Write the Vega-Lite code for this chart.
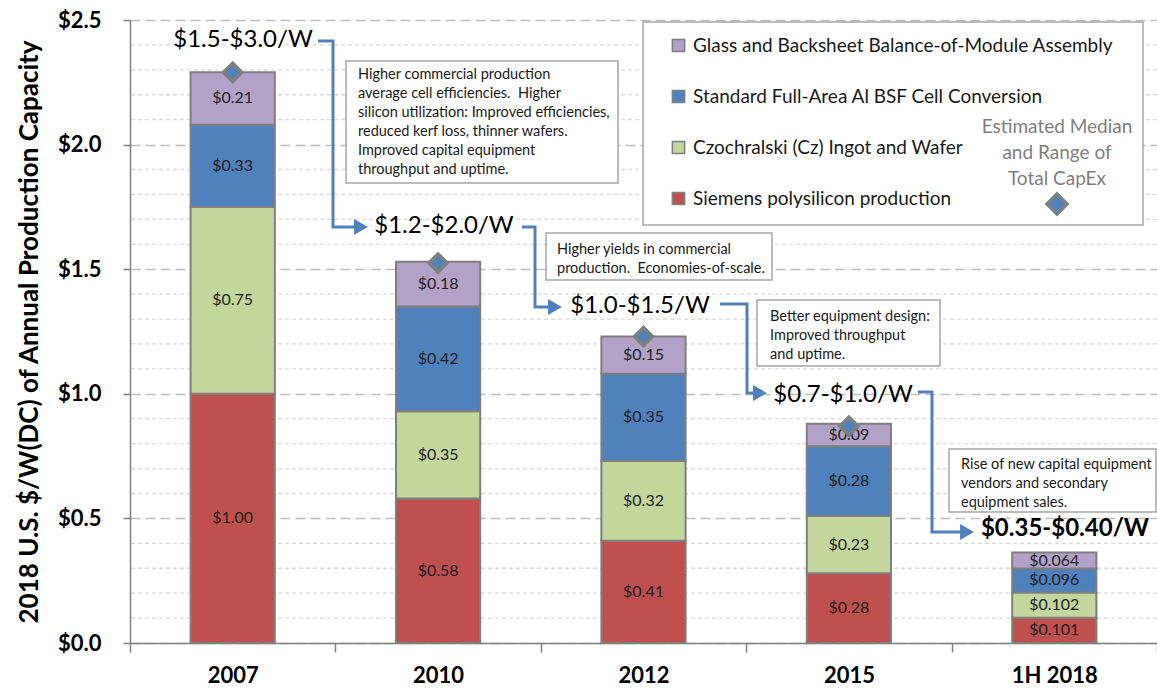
{
  "$schema": "https://vega.github.io/schema/vega-lite/v6.json",
  "width": 1027,
  "height": 623,
  "autosize": {"type": "none"},
  "padding": {"left": 130, "top": 20, "right": 0, "bottom": 46},
  "background": "white",
  "config": {"font": "Lato", "view": {"stroke": null}},
  "datasets": {
    "costs": [
      {"year": "2007", "component": "Siemens polysilicon production", "rank": 1, "value": 1.00},
      {"year": "2007", "component": "Czochralski (Cz) Ingot and Wafer", "rank": 2, "value": 0.75},
      {"year": "2007", "component": "Standard Full-Area Al BSF Cell Conversion", "rank": 3, "value": 0.33},
      {"year": "2007", "component": "Glass and Backsheet Balance-of-Module Assembly", "rank": 4, "value": 0.21},
      {"year": "2010", "component": "Siemens polysilicon production", "rank": 1, "value": 0.58},
      {"year": "2010", "component": "Czochralski (Cz) Ingot and Wafer", "rank": 2, "value": 0.35},
      {"year": "2010", "component": "Standard Full-Area Al BSF Cell Conversion", "rank": 3, "value": 0.42},
      {"year": "2010", "component": "Glass and Backsheet Balance-of-Module Assembly", "rank": 4, "value": 0.18},
      {"year": "2012", "component": "Siemens polysilicon production", "rank": 1, "value": 0.41},
      {"year": "2012", "component": "Czochralski (Cz) Ingot and Wafer", "rank": 2, "value": 0.32},
      {"year": "2012", "component": "Standard Full-Area Al BSF Cell Conversion", "rank": 3, "value": 0.35},
      {"year": "2012", "component": "Glass and Backsheet Balance-of-Module Assembly", "rank": 4, "value": 0.15},
      {"year": "2015", "component": "Siemens polysilicon production", "rank": 1, "value": 0.28},
      {"year": "2015", "component": "Czochralski (Cz) Ingot and Wafer", "rank": 2, "value": 0.23},
      {"year": "2015", "component": "Standard Full-Area Al BSF Cell Conversion", "rank": 3, "value": 0.28},
      {"year": "2015", "component": "Glass and Backsheet Balance-of-Module Assembly", "rank": 4, "value": 0.09},
      {"year": "1H 2018", "component": "Siemens polysilicon production", "rank": 1, "value": 0.101},
      {"year": "1H 2018", "component": "Czochralski (Cz) Ingot and Wafer", "rank": 2, "value": 0.102},
      {"year": "1H 2018", "component": "Standard Full-Area Al BSF Cell Conversion", "rank": 3, "value": 0.096},
      {"year": "1H 2018", "component": "Glass and Backsheet Balance-of-Module Assembly", "rank": 4, "value": 0.064}
    ],
    "medians": [
      {"year": "2007", "median": 2.29},
      {"year": "2010", "median": 1.525},
      {"year": "2012", "median": 1.23},
      {"year": "2015", "median": 0.87}
    ],
    "minorgrid": [
      {"g": 0.1}, {"g": 0.2}, {"g": 0.3}, {"g": 0.4},
      {"g": 0.6}, {"g": 0.7}, {"g": 0.8}, {"g": 0.9},
      {"g": 1.1}, {"g": 1.2}, {"g": 1.3}, {"g": 1.4},
      {"g": 1.6}, {"g": 1.7}, {"g": 1.8}, {"g": 1.9},
      {"g": 2.1}, {"g": 2.2}, {"g": 2.3}, {"g": 2.4}
    ],
    "ranges": [
      {"x": 0.0502, "y": 2.4198, "label": "$1.5-$3.0/W", "bold": 0},
      {"x": 1.0287, "y": 1.6734, "label": "$1.2-$2.0/W", "bold": 0},
      {"x": 1.983, "y": 1.3523, "label": "$1.0-$1.5/W", "bold": 0},
      {"x": 2.9713, "y": 0.9952, "label": "$0.7-$1.0/W", "bold": 0},
      {"x": 4.0521, "y": 0.4575, "label": "$0.35-$0.40/W", "bold": 1}
    ],
    "connectors": [
      {"seg": 1, "i": 1, "x": 0.4153, "y": 2.416},
      {"seg": 1, "i": 2, "x": 0.4883, "y": 2.416},
      {"seg": 1, "i": 3, "x": 0.4883, "y": 1.6693},
      {"seg": 1, "i": 4, "x": 0.6246, "y": 1.6693},
      {"seg": 2, "i": 1, "x": 1.4085, "y": 1.6693},
      {"seg": 2, "i": 2, "x": 1.4718, "y": 1.6693},
      {"seg": 2, "i": 3, "x": 1.4718, "y": 1.3483},
      {"seg": 2, "i": 4, "x": 1.5691, "y": 1.3483},
      {"seg": 3, "i": 1, "x": 2.3724, "y": 1.3604},
      {"seg": 3, "i": 2, "x": 2.5039, "y": 1.3604},
      {"seg": 3, "i": 3, "x": 2.5039, "y": 1.0032},
      {"seg": 3, "i": 4, "x": 2.5672, "y": 1.0032},
      {"seg": 4, "i": 1, "x": 3.3364, "y": 1.0072},
      {"seg": 4, "i": 2, "x": 3.4046, "y": 1.0072},
      {"seg": 4, "i": 3, "x": 3.4046, "y": 0.4454},
      {"seg": 4, "i": 4, "x": 3.575, "y": 0.4454}
    ],
    "boxes": [
      {"x1": 0.5516, "x2": 1.8759, "y1": 2.3355, "y2": 1.8459},
      {"x1": 1.5253, "x2": 2.6256, "y1": 1.6453, "y2": 1.4567},
      {"x1": 2.5526, "x2": 3.4436, "y1": 1.3764, "y2": 1.1116},
      {"x1": 3.4874, "x2": 4.4951, "y1": 0.7785, "y2": 0.5257},
      {"x1": 1.9976, "x2": 4.4318, "y1": 2.492, "y2": 1.6774}
    ],
    "notes": [
      {"x": 0.61, "y": 2.3074, "note": "Higher commercial production\naverage cell efficiencies.\u00a0 Higher\nsilicon utilization: Improved efficiencies,\nreduced kerf loss, thinner wafers.\nImproved capital equipment\nthroughput and uptime."},
      {"x": 1.5789, "y": 1.6051, "note": "Higher yields in commercial\nproduction.\u00a0 Economies-of-scale."},
      {"x": 2.6159, "y": 1.3363, "note": "Better equipment design:\nImproved throughput\nand uptime."},
      {"x": 3.5458, "y": 0.7424, "note": "Rise of new capital equipment\nvendors and secondary\nequipment sales."}
    ],
    "legendnote": [
      {"x": 4.0131, "y": 2.1068, "ty": 1.7616, "note": "Estimated Median\nand Range of\nTotal CapEx"}
    ]
  },
  "resolve": {"scale": {"x": "independent"}},
  "layer": [
    {
      "data": {"name": "minorgrid"},
      "mark": {"type": "rule", "color": "#D9D9D9", "strokeWidth": 1.3, "strokeDash": [4, 3]},
      "encoding": {
        "y": {"field": "g", "type": "quantitative"}
      }
    },
    {
      "data": {"name": "costs"},
      "transform": [
        {"stack": "value", "groupby": ["year"], "sort": [{"field": "rank", "order": "ascending"}], "as": ["y0", "y1"]}
      ],
      "mark": {"type": "bar", "width": {"band": 0.41}, "stroke": "#7F7F7F", "strokeWidth": 2},
      "encoding": {
        "x": {
          "field": "year",
          "type": "nominal",
          "sort": ["2007", "2010", "2012", "2015", "1H 2018"],
          "scale": {"domain": ["2007", "2010", "2012", "2015", "1H 2018"], "paddingInner": 0, "paddingOuter": 0},
          "axis": {
            "title": null,
            "labelFontSize": 22,
            "labelFontWeight": "bold",
            "labelColor": "#000000",
            "labelAngle": 0,
            "tickBand": "extent",
            "tickSize": 9,
            "tickColor": "#808080",
            "tickWidth": 1.5,
            "domainColor": "#808080",
            "domainWidth": 1.5,
            "labelPadding": 13,
            "grid": false
          }
        },
        "y": {
          "field": "y0",
          "type": "quantitative",
          "scale": {"domain": [0, 2.5], "nice": false},
          "axis": {
            "values": [0, 0.5, 1, 1.5, 2, 2.5],
            "labelExpr": "'$' + format(datum.value, '.1f')",
            "labelFontSize": 22,
            "labelFontWeight": "bold",
            "labelColor": "#000000",
            "labelPadding": 22,
            "tickSize": 7,
            "tickColor": "#808080",
            "tickWidth": 1.5,
            "domainColor": "#808080",
            "domainWidth": 1.5,
            "grid": true,
            "gridColor": "#BFBFBF",
            "gridDash": [10, 5],
            "gridWidth": 1.3,
            "title": "2018 U.S. $/W(DC) of Annual Production Capacity",
            "titleFontSize": 26,
            "titleFontWeight": "bold",
            "titleColor": "#000000",
            "titlePadding": 15
          }
        },
        "y2": {"field": "y1"},
        "color": {
          "field": "component",
          "type": "nominal",
          "scale": {
            "domain": ["Glass and Backsheet Balance-of-Module Assembly", "Standard Full-Area Al BSF Cell Conversion", "Czochralski (Cz) Ingot and Wafer", "Siemens polysilicon production"],
            "range": ["#B3A2C7", "#4F81BD", "#C3D69B", "#C0504D"]
          },
          "legend": {
            "title": null,
            "orient": "none",
            "legendX": 539,
            "legendY": 16,
            "symbolType": "square",
            "symbolSize": 150,
            "symbolStrokeColor": "#7F7F7F",
            "symbolStrokeWidth": 1.5,
            "symbolOpacity": 1,
            "labelFontSize": 19,
            "labelColor": "#1A1A1A",
            "labelLimit": 500,
            "labelOffset": 5,
            "rowPadding": 31
          }
        }
      }
    },
    {
      "data": {"name": "costs"},
      "transform": [
        {"stack": "value", "groupby": ["year"], "sort": [{"field": "rank", "order": "ascending"}], "as": ["y0", "y1"]},
        {"calculate": "(datum.y0 + datum.y1) / 2", "as": "mid"},
        {"calculate": "'$' + format(datum.value, datum.year === '1H 2018' ? '.3f' : '.2f')", "as": "label"}
      ],
      "mark": {"type": "text", "fontSize": 16, "color": "#222222", "baseline": "middle", "align": "center"},
      "encoding": {
        "x": {"field": "year", "type": "nominal", "sort": ["2007", "2010", "2012", "2015", "1H 2018"], "scale": {"domain": ["2007", "2010", "2012", "2015", "1H 2018"], "paddingInner": 0, "paddingOuter": 0}, "axis": null},
        "y": {"field": "mid", "type": "quantitative"},
        "text": {"field": "label"}
      }
    },
    {
      "data": {"name": "medians"},
      "mark": {"type": "point", "shape": "diamond", "filled": true, "fill": "#4F81BD", "stroke": "#7F7F7F", "strokeWidth": 3.5, "size": 330, "opacity": 1},
      "encoding": {
        "x": {"field": "year", "type": "nominal", "sort": ["2007", "2010", "2012", "2015", "1H 2018"], "scale": {"domain": ["2007", "2010", "2012", "2015", "1H 2018"], "paddingInner": 0, "paddingOuter": 0}, "axis": null},
        "y": {"field": "median", "type": "quantitative"}
      }
    },
    {
      "data": {"name": "boxes"},
      "mark": {"type": "rect", "fill": "white", "stroke": "#A6A6A6", "strokeWidth": 1.5},
      "encoding": {
        "x": {"field": "x1", "type": "quantitative", "scale": {"domain": [-0.5, 4.5], "nice": false, "zero": false}, "axis": null},
        "x2": {"field": "x2"},
        "y": {"field": "y1", "type": "quantitative"},
        "y2": {"field": "y2"}
      }
    },
    {
      "data": {"name": "notes"},
      "mark": {"type": "text", "align": "left", "baseline": "top", "fontSize": 14.5, "lineHeight": 19, "lineBreak": "\n", "color": "#1A1A1A"},
      "encoding": {
        "x": {"field": "x", "type": "quantitative", "scale": {"domain": [-0.5, 4.5], "nice": false, "zero": false}, "axis": null},
        "y": {"field": "y", "type": "quantitative"},
        "text": {"field": "note"}
      }
    },
    {
      "data": {"name": "legendnote"},
      "mark": {"type": "text", "align": "center", "baseline": "top", "fontSize": 19, "lineHeight": 26, "lineBreak": "\n", "color": "#7F7F7F"},
      "encoding": {
        "x": {"field": "x", "type": "quantitative", "scale": {"domain": [-0.5, 4.5], "nice": false, "zero": false}, "axis": null},
        "y": {"field": "y", "type": "quantitative"},
        "text": {"field": "note"}
      }
    },
    {
      "data": {"name": "legendnote"},
      "mark": {"type": "point", "shape": "diamond", "filled": true, "fill": "#4F81BD", "stroke": "#7F7F7F", "strokeWidth": 3.5, "size": 400, "opacity": 1},
      "encoding": {
        "x": {"field": "x", "type": "quantitative", "scale": {"domain": [-0.5, 4.5], "nice": false, "zero": false}, "axis": null},
        "y": {"field": "ty", "type": "quantitative"}
      }
    },
    {
      "data": {"name": "connectors"},
      "mark": {"type": "line", "color": "#4F81BD", "strokeWidth": 3, "strokeJoin": "miter", "interpolate": "linear"},
      "encoding": {
        "x": {"field": "x", "type": "quantitative", "scale": {"domain": [-0.5, 4.5], "nice": false, "zero": false}, "axis": null},
        "y": {"field": "y", "type": "quantitative"},
        "detail": {"field": "seg"},
        "order": {"field": "i"}
      }
    },
    {
      "data": {"name": "connectors"},
      "transform": [{"filter": "datum.i === 4"}],
      "mark": {"type": "point", "shape": "triangle-right", "filled": true, "color": "#4F81BD", "size": 256, "opacity": 1},
      "encoding": {
        "x": {"field": "x", "type": "quantitative", "scale": {"domain": [-0.5, 4.5], "nice": false, "zero": false}, "axis": null},
        "y": {"field": "y", "type": "quantitative"}
      }
    },
    {
      "data": {"name": "ranges"},
      "transform": [{"filter": "datum.bold === 0"}],
      "mark": {"type": "text", "align": "center", "baseline": "middle", "fontSize": 24, "color": "#000000"},
      "encoding": {
        "x": {"field": "x", "type": "quantitative", "scale": {"domain": [-0.5, 4.5], "nice": false, "zero": false}, "axis": null},
        "y": {"field": "y", "type": "quantitative"},
        "text": {"field": "label"}
      }
    },
    {
      "data": {"name": "ranges"},
      "transform": [{"filter": "datum.bold === 1"}],
      "mark": {"type": "text", "align": "center", "baseline": "middle", "fontSize": 24, "fontWeight": "bold", "color": "#000000"},
      "encoding": {
        "x": {"field": "x", "type": "quantitative", "scale": {"domain": [-0.5, 4.5], "nice": false, "zero": false}, "axis": null},
        "y": {"field": "y", "type": "quantitative"},
        "text": {"field": "label"}
      }
    }
  ]
}
